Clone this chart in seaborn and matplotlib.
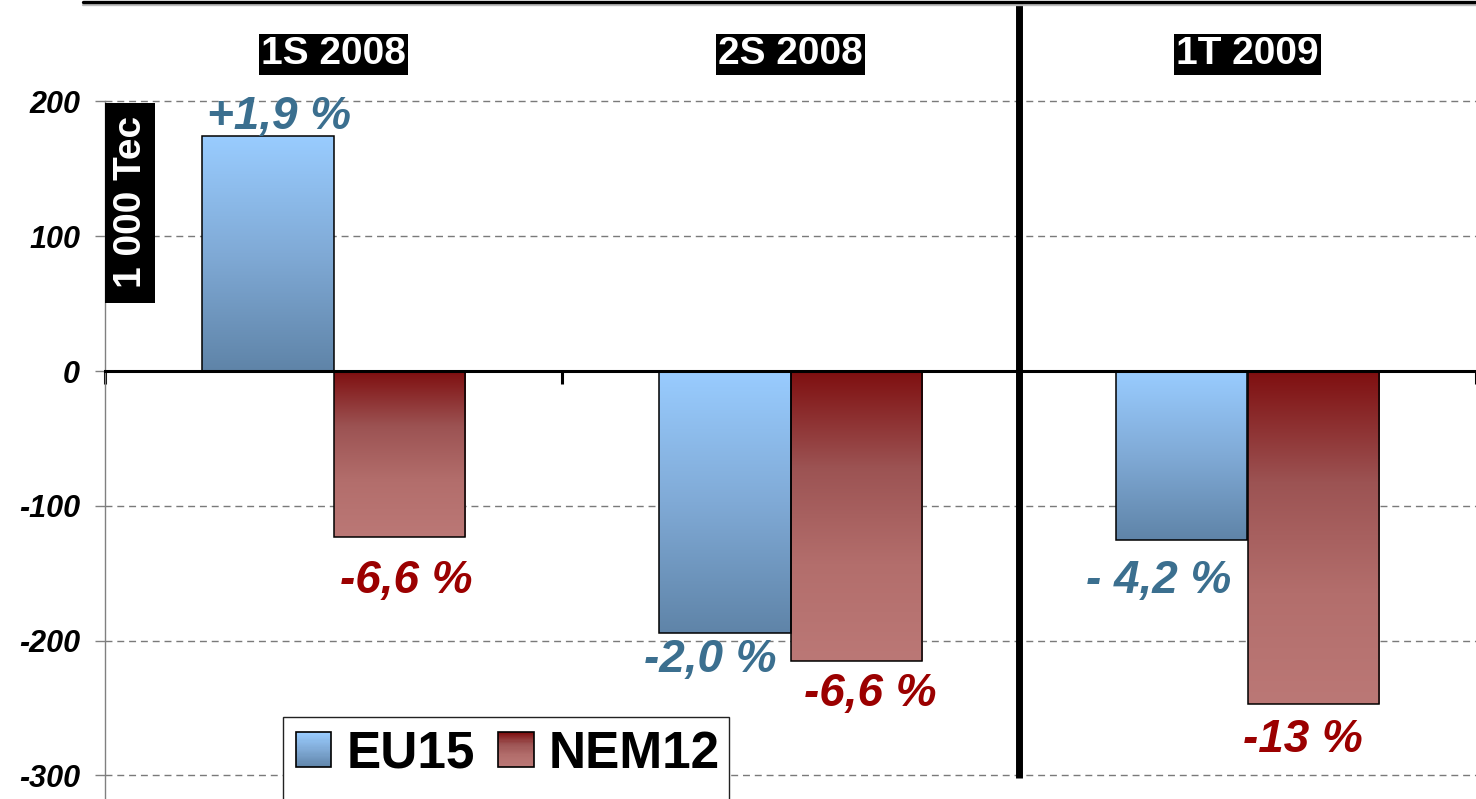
import numpy as np
import pandas as pd
import matplotlib
matplotlib.use("Agg")
import matplotlib.pyplot as plt
import seaborn as sns
from matplotlib.colors import LinearSegmentedColormap
from matplotlib.patches import Rectangle
from matplotlib.lines import Line2D
from matplotlib.legend_handler import HandlerBase

# ---------------- data ----------------
categories = ["1S 2008", "2S 2008", "1T 2009"]
series_names = ["EU15", "NEM12"]
eu15_values = [174, -194, -125]
nem12_values = [-123, -215, -247]
eu15_labels = ["+1,9 %", "-2,0 %", "- 4,2 %"]
nem12_labels = ["-6,6 %", "-6,6 %", "-13 %"]
y_ticks = [-300, -200, -100, 0, 100, 200]
y_axis_title = "1 000 Tec"

# ---------------- styles ----------------
eu15_grad = ["#99ccff", "#80aad6", "#5f84a8"]
nem12_grad = ["#7f0f10", "#9c5353", "#b36e6c", "#bb7876"]
label_colors = ["#3b6f8f", "#9b0000"]
# label offsets (pixels) from bar end
eu15_offsets = [(11, 19), (-15, -27), (-23, -41)]
nem12_offsets = [(7, -44), (14, -33), (-10, -36)]

sns.set_style("white")
plt.rcParams["font.family"] = ["Liberation Sans", "DejaVu Sans"]
plt.rcParams["text.color"] = "black"
plt.rcParams["axes.labelcolor"] = "black"
plt.rcParams["xtick.labelcolor"] = "black"
plt.rcParams["ytick.labelcolor"] = "black"

W, H = 1476, 799
fig = plt.figure(figsize=(W / 100, H / 100), dpi=100)
ax = fig.add_axes([105 / W, 0, (W - 105) / W, (H - 3) / H])

df = pd.DataFrame({
    "period": categories * 2,
    "region": [series_names[0]] * len(categories) + [series_names[1]] * len(categories),
    "value": eu15_values + nem12_values,
})

sns.barplot(data=df, x="period", y="value", hue="region", order=categories,
            hue_order=series_names, palette=[eu15_grad[0], nem12_grad[0]],
            width=0.574, errorbar=None, ax=ax, legend=False, saturation=1,
            edgecolor="black", linewidth=1.1)

cmaps = [LinearSegmentedColormap.from_list("eu", eu15_grad),
         LinearSegmentedColormap.from_list("nem", nem12_grad)]
all_labels = [eu15_labels, nem12_labels]
all_offsets = [eu15_offsets, nem12_offsets]

for cont, cmap, labs, offs, lc in zip(ax.containers, cmaps, all_labels, all_offsets, label_colors):
    for bar, lab, off in zip(cont, labs, offs):
        x0 = bar.get_x()
        w = bar.get_width()
        y0 = bar.get_y()
        h = bar.get_height()
        ylo, yhi = sorted([y0, y0 + h])
        grad = cmap(np.linspace(0, 1, 256))[:, None, :3]
        ax.imshow(grad, extent=[x0, x0 + w, ylo, yhi], origin="upper",
                  aspect="auto", interpolation="bilinear", zorder=2.5)
        bar.set_facecolor("none")
        bar.set_zorder(3)
        end = y0 + h
        ax.annotate(lab, xy=(x0 + w / 2, end), xytext=off, textcoords="offset pixels",
                    ha="center", va="center", fontsize=33, fontweight="bold",
                    fontstyle="italic", color=lc, zorder=6)

ax.set_xlim(-0.5, 2.5)
ax.set_ylim(-317.5, 273)

# grid
ax.set_yticks(y_ticks)
ax.set_yticklabels([str(t) for t in y_ticks], fontsize=22, fontweight="bold",
                   fontstyle="italic", color="black")
ax.set_axisbelow(True)
ax.yaxis.grid(True, color="#7a7a7a", linestyle=(0, (5, 3.5)), linewidth=1)
ax.xaxis.grid(False)
ax.tick_params(axis="y", direction="out", length=7, width=1, color="#808080", pad=11,
               left=True, labelcolor="black")

# x axis on zero line
ax.set_xticks(range(len(categories)))
ax.set_xticklabels([])
ax.set_xticks([-0.5, 0.5, 1.5, 2.5], minor=True)
ax.tick_params(axis="x", which="major", length=0)
ax.tick_params(axis="x", which="minor", direction="out", length=9, width=2.2,
               color="black", bottom=True)
ax.set_xlabel("")
ax.set_ylabel("")

for s in ["top", "right"]:
    ax.spines[s].set_visible(False)
ax.spines["bottom"].set_position(("data", 0))
ax.spines["bottom"].set_linewidth(2.2)
ax.spines["bottom"].set_color("black")
ax.spines["bottom"].set_zorder(5)
ax.spines["left"].set_color("#808080")
ax.spines["left"].set_linewidth(1)
ax.spines["left"].set_bounds(-317.5, 200)

# separator between semesters and quarter
ax.vlines(1.5, -302, 273, color="black", linewidth=5, zorder=5)

# category labels on top
for i, cat in enumerate(categories):
    ax.text(i, 235, cat, ha="center", va="center", color="white", fontsize=28,
            fontweight="bold", zorder=6,
            bbox=dict(boxstyle="square,pad=0.06", fc="black", ec="none"))

# y axis title in black box
ax.add_patch(Rectangle((-0.5, 50.4), 50 / 457, 148.4, fc="black", ec="none", zorder=4))
ax.text(-0.443, 125.4, y_axis_title, rotation=90, ha="center", va="center",
        color="white", fontsize=28, fontweight="bold", zorder=5)

# legend with gradient handles
class GradientHandler(HandlerBase):
    def __init__(self, cmap):
        super().__init__()
        self.cmap = cmap

    def create_artists(self, legend, orig_handle, xdescent, ydescent, width, height, fontsize, trans):
        n = 30
        arts = []
        for i in range(n):
            yb = -ydescent + height * (1 - (i + 1) / n)
            arts.append(Rectangle((-xdescent, yb), width, height / n,
                                  facecolor=self.cmap((i + 0.5) / n), edgecolor="none",
                                  transform=trans))
        arts.append(Rectangle((-xdescent, -ydescent), width, height, facecolor="none",
                              edgecolor="black", lw=1.2, transform=trans))
        return arts

# legend box (extends past the bottom edge as in the original)
ax.add_patch(Rectangle((283 / W, -20 / H), (729 - 283) / W, (799 - 717 + 20) / H,
                       transform=fig.transFigure, fc="white", ec="#222222", lw=1,
                       zorder=6.5, clip_on=False))

handles = [Rectangle((0, 0), 1, 1) for _ in series_names]
leg = ax.legend(handles, series_names,
                handler_map={handles[0]: GradientHandler(cmaps[0]),
                             handles[1]: GradientHandler(cmaps[1])},
                loc="upper left", bbox_to_anchor=(283 / W, 1 - 717 / H),
                bbox_transform=fig.transFigure, borderaxespad=0, borderpad=0.25,
                handlelength=0.69, handleheight=0.67, handletextpad=0.3,
                columnspacing=0.45, ncol=2, frameon=False,
                prop={"size": 37, "weight": "bold"})
for t in leg.get_texts():
    t.set_color("black")
leg.set_zorder(7)

# top frame line
fig.add_artist(Line2D([83 / W, 1], [1 - 4.7 / H] * 2, color="#bdbdbd", lw=1.7,
                      transform=fig.transFigure))
fig.add_artist(Line2D([83 / W, 1], [1 - 1.7 / H] * 2, color="black", lw=2.4,
                      transform=fig.transFigure))

fig.savefig("out.png", dpi=100)
